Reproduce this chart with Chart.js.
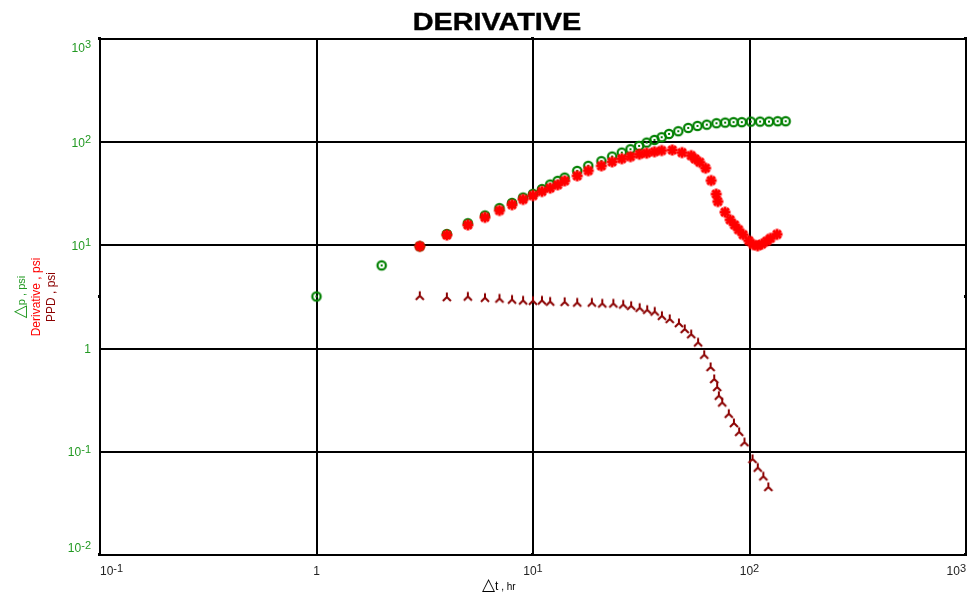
<!DOCTYPE html>
<html>
<head>
<meta charset="utf-8">
<script src="https://cdn.jsdelivr.net/npm/chart.js@4.4.1/dist/chart.umd.min.js"></script>
<style>
  html, body { margin: 0; padding: 0; background: #fff; }
  canvas { display: block; }
</style>
</head>
<body>
<canvas id="derivChart" width="972" height="594"></canvas>
<script>
// Δp (pressure change), psi
const pressureTime = [1, 2, 3, 4, 5, 6, 7, 8, 9, 10, 11, 12, 13, 14, 16, 18, 20.7, 23.2, 25.7, 28.2,
    30.9, 33.5, 36.4, 39.3, 42.5, 46.9, 52.1, 57.5, 63.5, 70.4, 77.2, 84.4, 92.1, 101.4, 111.9, 123, 134.9, 146.9];
const pressureValues = [3.2, 6.4, 9.8, 12.9, 16.4, 19.5, 23.0, 25.8, 29.1, 31.6, 35.1, 38.9, 42.2, 45.4, 52.7, 59.0, 65.5, 72.6, 79.3, 85.5,
    92.1, 99.1, 105.2, 111.7, 120.3, 127.8, 137.5, 143.9, 148.0, 152.8, 154.9, 156.3, 156.3, 158.3, 158.3, 158.3, 159.7, 159.7];

// Derivative, psi
const derivTime = [3, 4, 5, 6, 7, 8, 9, 10, 11, 12, 13, 14, 16, 18, 20.7, 23.2, 25.7, 28.2, 31, 33.5,
    36.4, 39.3, 44, 48.8, 53.8, 56.1, 58.9, 62.7, 66.5, 70.2, 71.4, 77.1, 81.4, 85.3, 89, 93.4, 99.3, 104, 109, 114, 120, 125, 134];
const derivValues = [9.8, 12.6, 15.8, 18.7, 21.8, 24.8, 27.9, 30.4, 33.3, 35.9, 38.6, 42.2, 47.2, 53, 59, 64.5, 69.2, 72.4, 76.5, 78.3,
    80.7, 83, 84, 79.3, 74.2, 68.9, 64, 56, 42.5, 31.4, 26.6, 21, 17.7, 15.8, 14.2, 12.7, 11.1, 10.2, 9.9, 10.3, 11, 11.7, 12.8];

// PPD, psi
const ppdTime = [3, 4, 5, 6, 7, 8, 9, 10, 11, 12, 14, 16, 18.7, 20.9, 23.5, 26.1, 28.4, 31.1, 33.7, 36.5,
    39.4, 42.8, 47.2, 50.2, 53.8, 57.9, 61.8, 66.1, 68.7, 70.9, 72.2, 74.8, 80.2, 84.7, 89.6, 94.8, 103.3, 109.2, 115.9, 122.2];
const ppdValues = [3.25, 3.16, 3.20, 3.11, 3.06, 2.99, 2.93, 2.91, 2.93, 2.86, 2.84, 2.80, 2.80, 2.74, 2.74, 2.68, 2.60, 2.49, 2.38, 2.29,
    2.08, 1.94, 1.77, 1.55, 1.38, 1.15, 0.873, 0.664, 0.508, 0.425, 0.350, 0.301, 0.234, 0.190, 0.156, 0.124, 0.0853, 0.0703, 0.0579, 0.0457];

const xTicks = [0.1, 1, 10, 100, 1000];
const yTicks = [0.01, 0.1, 1, 10, 100, 1000];

const FONT = '"Liberation Sans", Arial, sans-serif';
const GREEN = '#008000';
const GREEN_TEXT = '#229922';
const RED = '#ff0000';
const DARK_RED = '#8b0000';

const toPoints = (xs, ys) => xs.map((x, i) => ({ x: x, y: ys[i] }));

// small canvases used as point styles
function makeMarker(size, draw) {
    const c = document.createElement('canvas');
    c.width = size;
    c.height = size;
    draw(c.getContext('2d'), size / 2);
    return c;
}
const circleMark = makeMarker(14, (g, m) => {
    g.strokeStyle = GREEN;
    g.lineWidth = 2.2;
    g.beginPath();
    g.arc(m, m, 4.2, 0, Math.PI * 2);
    g.stroke();
    g.fillStyle = GREEN;
    g.fillRect(m - 1, m - 1, 2, 2);
});
const starMark = makeMarker(16, (g, m) => {
    g.strokeStyle = RED;
    g.lineWidth = 3;
    for (let k = 0; k < 4; k++) {
        const a = k * Math.PI / 4;
        g.beginPath();
        g.moveTo(m - 5.5 * Math.cos(a), m - 5.5 * Math.sin(a));
        g.lineTo(m + 5.5 * Math.cos(a), m + 5.5 * Math.sin(a));
        g.stroke();
    }
});
const ppdMark = makeMarker(12, (g, m) => {
    g.strokeStyle = DARK_RED;
    g.lineWidth = 2;
    g.beginPath();
    g.moveTo(m, m - 4.5);
    g.lineTo(m, m);
    g.moveTo(m - 4, m + 4);
    g.lineTo(m, m);
    g.lineTo(m + 4, m + 4);
    g.stroke();
});

// text helpers: draw a row of runs with different fonts/offsets
function runsWidth(ctx, runs) {
    let w = 0;
    runs.forEach(r => { ctx.font = r.font; w += ctx.measureText(r.text).width; });
    return w;
}
function drawRuns(ctx, runs, x, y, align) {
    const w = runsWidth(ctx, runs);
    let cx = align === 'right' ? x - w : align === 'center' ? x - w / 2 : x;
    ctx.textAlign = 'left';
    ctx.textBaseline = 'alphabetic';
    runs.forEach(r => {
        ctx.font = r.font;
        ctx.fillStyle = r.color;
        ctx.fillText(r.text, cx, y + (r.dy || 0));
        cx += ctx.measureText(r.text).width;
    });
}
function powerRuns(v, color) {
    const e = Math.round(Math.log10(v));
    if (e === 0) return [{ text: '1', font: '12px ' + FONT, color: color }];
    return [
        { text: '10', font: '12px ' + FONT, color: color },
        { text: String(e), font: '11px ' + FONT, color: color, dy: -3.5 }
    ];
}
const clamp = (v, lo, hi) => Math.max(lo, Math.min(hi, v));

const textPlugin = {
    id: 'texts',
    afterDraw(chart) {
        const ctx = chart.ctx;
        const a = chart.chartArea;
        const xs = chart.scales.x;
        const ys = chart.scales.y;
        ctx.save();

        // title
        ctx.save();
        ctx.translate(497, 30);
        ctx.scale(1.2, 1);
        ctx.font = 'bold 24px ' + FONT;
        ctx.fillStyle = '#000';
        ctx.strokeStyle = '#000';
        ctx.lineWidth = 0.4;
        ctx.textAlign = 'center';
        ctx.textBaseline = 'alphabetic';
        ctx.fillText('DERIVATIVE', 0, 0);
        ctx.strokeText('DERIVATIVE', 0, 0);
        ctx.restore();

        // y tick labels
        yTicks.forEach(v => {
            const py = clamp(ys.getPixelForValue(v), a.top + 8, a.bottom - 7.5);
            drawRuns(ctx, powerRuns(v, GREEN_TEXT), 91, py + 4.5, 'right');
        });

        // x tick labels
        xTicks.forEach(v => {
            const runs = powerRuns(v, '#222');
            const w = runsWidth(ctx, runs);
            const left = clamp(xs.getPixelForValue(v) - w / 2, a.left, a.right - w);
            drawRuns(ctx, runs, left, 575, 'left');
        });

        // x axis title
        drawRuns(ctx, [
            { text: '△', font: '17px "DejaVu Sans", sans-serif', color: '#000' },
            { text: 't', font: '12px ' + FONT, color: '#000' },
            { text: ' , hr', font: '10px ' + FONT, color: '#000' }
        ], 482, 590, 'left');

        // y axis titles (three coloured lines)
        const yTitles = [
            { x: 25, runs: [
                { text: '△', font: '17px "DejaVu Sans", sans-serif', color: GREEN_TEXT },
                { text: 'p , psi', font: '11px ' + FONT, color: GREEN_TEXT }] },
            { x: 40, runs: [{ text: 'Derivative , psi', font: '12px ' + FONT, color: RED }] },
            { x: 54.5, runs: [{ text: 'PPD , psi', font: '12px ' + FONT, color: DARK_RED }] }
        ];
        yTitles.forEach(t => {
            ctx.save();
            ctx.translate(t.x, (a.top + a.bottom) / 2);
            ctx.rotate(-Math.PI / 2);
            drawRuns(ctx, t.runs, 0, 0, 'center');
            ctx.restore();
        });

        // small handles around the plot frame
        ctx.fillStyle = '#000';
        const mx = (a.left + a.right) / 2;
        const my = (a.top + a.bottom) / 2;
        [[a.left, a.top], [mx, a.top], [a.right, a.top], [a.left, my], [a.right, my],
         [a.left, a.bottom], [mx, a.bottom], [a.right, a.bottom]].forEach(p => {
            ctx.fillRect(p[0] - 2, p[1] - 2, 3, 3);
        });
        ctx.restore();
    }
};

const axisGrid = { color: '#000', lineWidth: 2, drawTicks: false };
const axisBorder = { display: true, color: '#000', width: 2 };

const ctx = document.getElementById('derivChart').getContext('2d');
const chart = new Chart(ctx, {
    type: 'scatter',
    data: {
        datasets: [
            {
                label: 'Derivative , psi',
                data: toPoints(derivTime, derivValues),
                pointStyle: starMark,
                pointRadius: 5,
                order: 0
            },
            {
                label: '△p , psi',
                data: toPoints(pressureTime, pressureValues),
                pointStyle: circleMark,
                pointRadius: 5,
                order: 1
            },
            {
                label: 'PPD , psi',
                data: toPoints(ppdTime, ppdValues),
                pointStyle: ppdMark,
                pointRadius: 5,
                order: 2
            }
        ]
    },
    options: {
        responsive: false,
        animation: false,
        layout: { padding: { left: 100, top: 39, right: -3, bottom: 39 } },
        plugins: {
            legend: { display: false },
            tooltip: { enabled: false },
            title: { display: false }
        },
        scales: {
            x: {
                type: 'logarithmic',
                min: 0.1,
                max: 1000,
                afterBuildTicks: s => { s.ticks = xTicks.map(v => ({ value: v })); },
                ticks: { display: false },
                grid: axisGrid,
                border: axisBorder
            },
            y: {
                type: 'logarithmic',
                min: 0.01,
                max: 1000,
                afterBuildTicks: s => { s.ticks = yTicks.map(v => ({ value: v })); },
                ticks: { display: false },
                grid: axisGrid,
                border: axisBorder
            }
        }
    },
    plugins: [textPlugin]
});
</script>
</body>
</html>
